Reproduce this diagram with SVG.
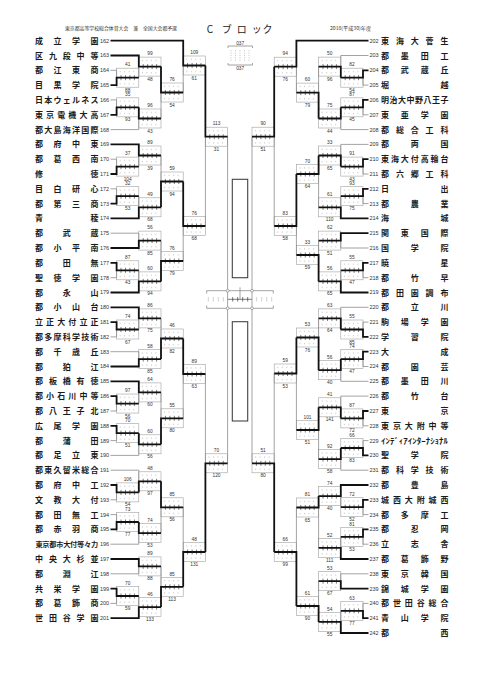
<svg xmlns="http://www.w3.org/2000/svg" width="481" height="680" viewBox="0 0 481 680">
<style>
.n{font-family:"Noto Sans CJK JP","Noto Sans CJK SC",sans-serif;font-size:8px;font-weight:bold;fill:#1a1a1a;text-anchor:middle}
.no{font-family:"Liberation Sans",sans-serif;font-size:5.5px;fill:#333}
.s{font-family:"Liberation Sans",sans-serif;font-size:4.8px;fill:#333;text-anchor:middle}
.h{font-family:"Noto Sans CJK JP",sans-serif;font-size:5px;fill:#333}
.th{fill:none;stroke:#8c8c8c;stroke-width:0.8}
.tk{fill:none;stroke:#111;stroke-width:1.8}
.bo{fill:none;stroke:#a0a0a0;stroke-width:0.6}
.bd{fill:none;stroke:#b0b0b0;stroke-width:0.6}
.bt{fill:none;stroke:#222;stroke-width:0.6}
.t{}
</style>
<defs>
<g id="bx">
<rect class="bo" x="0" y="-9.5" width="22.2" height="19"/>
<path class="bd" d="M3.6,-6.8v1.4M8.1,-6.8v1.4M12.6,-6.8v1.4M17.1,-6.8v1.4M3.6,5.4v1.4M8.1,5.4v1.4M12.6,5.4v1.4M17.1,5.4v1.4"/>
<path class="bt" d="M4.4,-2.5v5M8.9,-2.5v5M13.3,-2.5v5M17.8,-2.5v5"/>
</g>
</defs>
<rect width="481" height="680" fill="#fff"/>
<g id="header">
<text class="h" x="65" y="29.5" textLength="112" lengthAdjust="spacingAndGlyphs">東京都高等学校総合体育大会　兼　全国大会都予選</text>
<text x="210 226.7 241.7 256.7 267.5" y="32.5" style="font-family:'Noto Sans CJK JP',sans-serif;font-size:10px;fill:#222;text-anchor:middle">Cブロック</text>
<text class="h" x="330" y="30" textLength="41" lengthAdjust="spacingAndGlyphs">2018(平成30)年度</text>
</g>
<g id="teams-left">
<g id="t162"><text class="n" x="39 57.5 76 94.5" y="43.7">成立学園</text><text class="no" x="100" y="42.6">162</text></g>
<g id="t163"><text class="n" x="39 52.9 66.8 80.6 94.5" y="58.5">区九段中等</text><text class="no" x="100" y="57.4">163</text></g>
<g id="t164"><text class="n" x="39 57.5 76 94.5" y="73.3">都江東商</text><text class="no" x="100" y="72.2">164</text></g>
<g id="t165"><text class="n" x="39 57.5 76 94.5" y="88.1">目黒学院</text><text class="no" x="100" y="87">165</text></g>
<g id="t166"><text class="n" x="39 48.3 57.5 66.8 76 85.3 94.5" y="102.9">日本ウェルネス</text><text class="no" x="100" y="101.8">166</text></g>
<g id="t167"><text class="n" x="39 50.1 61.2 72.3 83.4 94.5" y="117.8">東京電機大高</text><text class="no" x="100" y="116.7">167</text></g>
<g id="t168"><text class="n" x="39 48.3 57.5 66.8 76 85.3 94.5" y="132.6">都大島海洋国際</text><text class="no" x="100" y="131.5">168</text></g>
<g id="t169"><text class="n" x="39 57.5 76 94.5" y="147.4">都府中東</text><text class="no" x="100" y="146.3">169</text></g>
<g id="t170"><text class="n" x="39 57.5 76 94.5" y="162.2">都葛西南</text><text class="no" x="100" y="161.1">170</text></g>
<g id="t171"><text class="n" x="39 94.5" y="177">修徳</text><text class="no" x="100" y="175.9">171</text></g>
<g id="t172"><text class="n" x="39 57.5 76 94.5" y="191.8">目白研心</text><text class="no" x="100" y="190.7">172</text></g>
<g id="t173"><text class="n" x="39 57.5 76 94.5" y="206.6">都第三商</text><text class="no" x="100" y="205.5">173</text></g>
<g id="t174"><text class="n" x="39 94.5" y="221.4">青稜</text><text class="no" x="100" y="220.3">174</text></g>
<g id="t175"><text class="n" x="39 66.8 94.5" y="236.2">都武蔵</text><text class="no" x="100" y="235.1">175</text></g>
<g id="t176"><text class="n" x="39 57.5 76 94.5" y="251">都小平南</text><text class="no" x="100" y="249.9">176</text></g>
<g id="t177"><text class="n" x="39 66.8 94.5" y="265.9">都田無</text><text class="no" x="100" y="264.8">177</text></g>
<g id="t178"><text class="n" x="39 57.5 76 94.5" y="280.7">聖徳学園</text><text class="no" x="100" y="279.6">178</text></g>
<g id="t179"><text class="n" x="39 66.8 94.5" y="295.5">都永山</text><text class="no" x="100" y="294.4">179</text></g>
<g id="t180"><text class="n" x="39 57.5 76 94.5" y="310.3">都小山台</text><text class="no" x="100" y="309.2">180</text></g>
<g id="t181"><text class="n" x="39 50.1 61.2 72.3 83.4 94.5" y="325.1">立正大付立正</text><text class="no" x="100" y="324">181</text></g>
<g id="t182"><text class="n" x="39 48.3 57.5 66.8 76 85.3 94.5" y="339.9">都多摩科学技術</text><text class="no" x="100" y="338.8">182</text></g>
<g id="t183"><text class="n" x="39 57.5 76 94.5" y="354.7">都千歳丘</text><text class="no" x="100" y="353.6">183</text></g>
<g id="t184"><text class="n" x="39 66.8 94.5" y="369.5">都狛江</text><text class="no" x="100" y="368.4">184</text></g>
<g id="t185"><text class="n" x="39 52.9 66.8 80.6 94.5" y="384.3">都板橋有徳</text><text class="no" x="100" y="383.2">185</text></g>
<g id="t186"><text class="n" x="39 50.1 61.2 72.3 83.4 94.5" y="399.1">都小石川中等</text><text class="no" x="100" y="398">186</text></g>
<g id="t187"><text class="n" x="39 52.9 66.8 80.6 94.5" y="414">都八王子北</text><text class="no" x="100" y="412.9">187</text></g>
<g id="t188"><text class="n" x="39 57.5 76 94.5" y="428.8">広尾学園</text><text class="no" x="100" y="427.7">188</text></g>
<g id="t189"><text class="n" x="39 66.8 94.5" y="443.6">都蒲田</text><text class="no" x="100" y="442.5">189</text></g>
<g id="t190"><text class="n" x="39 57.5 76 94.5" y="458.4">都足立東</text><text class="no" x="100" y="457.3">190</text></g>
<g id="t191"><text class="n" x="39 48.3 57.5 66.8 76 85.3 94.5" y="473.2">都東久留米総合</text><text class="no" x="100" y="472.1">191</text></g>
<g id="t192"><text class="n" x="39 57.5 76 94.5" y="488">都府中工</text><text class="no" x="100" y="486.9">192</text></g>
<g id="t193"><text class="n" x="39 57.5 76 94.5" y="502.8">文教大付</text><text class="no" x="100" y="501.7">193</text></g>
<g id="t194"><text class="n" x="39 57.5 76 94.5" y="517.6">都田無工</text><text class="no" x="100" y="516.5">194</text></g>
<g id="t195"><text class="n" x="39 57.5 76 94.5" y="532.4">都赤羽商</text><text class="no" x="100" y="531.3">195</text></g>
<g id="t196"><text class="n" style="font-size:7.2px" x="39 45.9 52.9 59.8 66.8 73.7 80.6 87.6 94.5" y="547">東京都市大付等々力</text><text class="no" x="100" y="546.1">196</text></g>
<g id="t197"><text class="n" x="39 52.9 66.8 80.6 94.5" y="562">中央大杉並</text><text class="no" x="100" y="560.9">197</text></g>
<g id="t198"><text class="n" x="39 66.8 94.5" y="576.8">都淵江</text><text class="no" x="100" y="575.7">198</text></g>
<g id="t199"><text class="n" x="39 57.5 76 94.5" y="591.6">共栄学園</text><text class="no" x="100" y="590.5">199</text></g>
<g id="t200"><text class="n" x="39 57.5 76 94.5" y="606.4">都葛飾商</text><text class="no" x="100" y="605.3">200</text></g>
<g id="t201"><text class="n" x="39 52.9 66.8 80.6 94.5" y="621.2">世田谷学園</text><text class="no" x="100" y="620.1">201</text></g>
</g>
<g id="teams-right">
<g id="t202"><text class="n" x="385 399.9 414.8 429.6 444.5" y="43.7">東海大菅生</text><text class="no" x="369.5" y="42.6">202</text></g>
<g id="t203"><text class="n" x="385 404.8 424.7 444.5" y="58.5">都墨田工</text><text class="no" x="369.5" y="57.4">203</text></g>
<g id="t204"><text class="n" x="385 404.8 424.7 444.5" y="73.3">都武蔵丘</text><text class="no" x="369.5" y="72.2">204</text></g>
<g id="t205"><text class="n" x="385 444.5" y="88.1">堀越</text><text class="no" x="369.5" y="87">205</text></g>
<g id="t206"><text class="n" x="385 393.5 402 410.5 419 427.5 436 444.5" y="102.9">明治大中野八王子</text><text class="no" x="369.5" y="101.8">206</text></g>
<g id="t207"><text class="n" x="385 404.8 424.7 444.5" y="117.8">東亜学園</text><text class="no" x="369.5" y="116.7">207</text></g>
<g id="t208"><text class="n" x="385 399.9 414.8 429.6 444.5" y="132.6">都総合工科</text><text class="no" x="369.5" y="131.5">208</text></g>
<g id="t209"><text class="n" x="385 414.8 444.5" y="147.4">都両国</text><text class="no" x="369.5" y="146.3">209</text></g>
<g id="t210"><text class="n" x="385 394.9 404.8 414.8 424.7 434.6 444.5" y="162.2">東海大付高輪台</text><text class="no" x="369.5" y="161.1">210</text></g>
<g id="t211"><text class="n" x="385 399.9 414.8 429.6 444.5" y="177">都六郷工科</text><text class="no" x="369.5" y="175.9">211</text></g>
<g id="t212"><text class="n" x="385 444.5" y="191.8">日出</text><text class="no" x="369.5" y="190.7">212</text></g>
<g id="t213"><text class="n" x="385 414.8 444.5" y="206.6">都農業</text><text class="no" x="369.5" y="205.5">213</text></g>
<g id="t214"><text class="n" x="385 444.5" y="221.4">海城</text><text class="no" x="369.5" y="220.3">214</text></g>
<g id="t215"><text class="n" x="385 404.8 424.7 444.5" y="236.2">関東国際</text><text class="no" x="369.5" y="235.1">215</text></g>
<g id="t216"><text class="n" x="385 414.8 444.5" y="251">国学院</text><text class="no" x="369.5" y="249.9">216</text></g>
<g id="t217"><text class="n" x="385 444.5" y="265.9">暁星</text><text class="no" x="369.5" y="264.8">217</text></g>
<g id="t218"><text class="n" x="385 414.8 444.5" y="280.7">都竹早</text><text class="no" x="369.5" y="279.6">218</text></g>
<g id="t219"><text class="n" x="385 399.9 414.8 429.6 444.5" y="295.5">都田園調布</text><text class="no" x="369.5" y="294.4">219</text></g>
<g id="t220"><text class="n" x="385 414.8 444.5" y="310.3">都立川</text><text class="no" x="369.5" y="309.2">220</text></g>
<g id="t221"><text class="n" x="385 404.8 424.7 444.5" y="325.1">駒場学園</text><text class="no" x="369.5" y="324">221</text></g>
<g id="t222"><text class="n" x="385 414.8 444.5" y="339.9">学習院</text><text class="no" x="369.5" y="338.8">222</text></g>
<g id="t223"><text class="n" x="385 444.5" y="354.7">大成</text><text class="no" x="369.5" y="353.6">223</text></g>
<g id="t224"><text class="n" x="385 414.8 444.5" y="369.5">都園芸</text><text class="no" x="369.5" y="368.4">224</text></g>
<g id="t225"><text class="n" x="385 404.8 424.7 444.5" y="384.3">都墨田川</text><text class="no" x="369.5" y="383.2">225</text></g>
<g id="t226"><text class="n" x="385 414.8 444.5" y="399.1">都竹台</text><text class="no" x="369.5" y="398">226</text></g>
<g id="t227"><text class="n" x="385 444.5" y="414">東京</text><text class="no" x="369.5" y="412.9">227</text></g>
<g id="t228"><text class="n" x="385 396.9 408.8 420.7 432.6 444.5" y="428.8">東京大附中等</text><text class="no" x="369.5" y="427.7">228</text></g>
<g id="t229"><text class="n" style="text-anchor:start;font-size:7.5px" x="381" y="443.6" textLength="67" lengthAdjust="spacingAndGlyphs">ｲﾝﾃﾞｨｱｲﾝﾀｰﾅｼｮﾅﾙ</text><text class="no" x="369.5" y="442.5">229</text></g>
<g id="t230"><text class="n" x="385 414.8 444.5" y="458.4">聖学院</text><text class="no" x="369.5" y="457.3">230</text></g>
<g id="t231"><text class="n" x="385 399.9 414.8 429.6 444.5" y="473.2">都科学技術</text><text class="no" x="369.5" y="472.1">231</text></g>
<g id="t232"><text class="n" x="385 414.8 444.5" y="488">都豊島</text><text class="no" x="369.5" y="486.9">232</text></g>
<g id="t233"><text class="n" x="385 396.9 408.8 420.7 432.6 444.5" y="502.8">城西大附城西</text><text class="no" x="369.5" y="501.7">233</text></g>
<g id="t234"><text class="n" x="385 404.8 424.7 444.5" y="517.6">都多摩工</text><text class="no" x="369.5" y="516.5">234</text></g>
<g id="t235"><text class="n" x="385 414.8 444.5" y="532.4">都忍岡</text><text class="no" x="369.5" y="531.3">235</text></g>
<g id="t236"><text class="n" x="385 414.8 444.5" y="547.2">立志舎</text><text class="no" x="369.5" y="546.1">236</text></g>
<g id="t237"><text class="n" x="385 404.8 424.7 444.5" y="562">都葛飾野</text><text class="no" x="369.5" y="560.9">237</text></g>
<g id="t238"><text class="n" x="385 404.8 424.7 444.5" y="576.8">東京韓国</text><text class="no" x="369.5" y="575.7">238</text></g>
<g id="t239"><text class="n" x="385 404.8 424.7 444.5" y="591.6">錦城学園</text><text class="no" x="369.5" y="590.5">239</text></g>
<g id="t240"><text class="n" x="385 396.9 408.8 420.7 432.6 444.5" y="606.4">都世田谷総合</text><text class="no" x="369.5" y="605.3">240</text></g>
<g id="t241"><text class="n" x="385 404.8 424.7 444.5" y="621.2">青山学院</text><text class="no" x="369.5" y="620.1">241</text></g>
<g id="t242"><text class="n" x="385 444.5" y="636">都西</text><text class="no" x="369.5" y="634.9">242</text></g>
</g>
<g id="matches-left">
<g id="mA1" transform="translate(116.6,77.7)"><use href="#bx"/><text class="s" x="11.1" y="-11.3">41</text><text class="s" x="11.1" y="14">88</text></g>
<g id="mA2" transform="translate(116.6,107.35)"><use href="#bx"/><text class="s" x="11.1" y="-11.3">35</text><text class="s" x="11.1" y="14">93</text></g>
<g id="mA3" transform="translate(116.6,166.6)"><use href="#bx"/><text class="s" x="11.1" y="-11.3">37</text><text class="s" x="11.1" y="14">104</text></g>
<g id="mA4" transform="translate(116.6,196.2)"><use href="#bx"/><text class="s" x="11.1" y="-11.3">32</text><text class="s" x="11.1" y="14">53</text></g>
<g id="mA5" transform="translate(116.6,270.3)"><use href="#bx"/><text class="s" x="11.1" y="-11.3">87</text><text class="s" x="11.1" y="14">43</text></g>
<g id="mA6" transform="translate(116.6,329.5)"><use href="#bx"/><text class="s" x="11.1" y="-11.3">74</text><text class="s" x="11.1" y="14">67</text></g>
<g id="mA7" transform="translate(116.6,403.55)"><use href="#bx"/><text class="s" x="11.1" y="-11.3">97</text><text class="s" x="11.1" y="14">56</text></g>
<g id="mA8" transform="translate(116.6,433.2)"><use href="#bx"/><text class="s" x="11.1" y="-11.3">70</text><text class="s" x="11.1" y="14">51</text></g>
<g id="mA9" transform="translate(116.6,492.4)"><use href="#bx"/><text class="s" x="11.1" y="-11.3">106</text><text class="s" x="11.1" y="14">54</text></g>
<g id="mA10" transform="translate(116.6,522)"><use href="#bx"/><text class="s" x="11.1" y="-11.3">73</text><text class="s" x="11.1" y="14">77</text></g>
<g id="mA11" transform="translate(116.6,596)"><use href="#bx"/><text class="s" x="11.1" y="-11.3">70</text><text class="s" x="11.1" y="14">59</text></g>
<g id="mB1" transform="translate(138.8,66.6)"><use href="#bx"/><text class="s" x="11.1" y="-11.3">99</text><text class="s" x="11.1" y="14">48</text></g>
<g id="mB2" transform="translate(138.8,118.5)"><use href="#bx"/><text class="s" x="11.1" y="-11.3">96</text><text class="s" x="11.1" y="14">43</text></g>
<g id="mB3" transform="translate(138.8,155.5)"><use href="#bx"/><text class="s" x="11.1" y="-11.3">89</text><text class="s" x="11.1" y="14">39</text></g>
<g id="mB4" transform="translate(138.8,207.3)"><use href="#bx"/><text class="s" x="11.1" y="-11.3">49</text><text class="s" x="11.1" y="14">68</text></g>
<g id="mB5" transform="translate(138.8,240.6)"><use href="#bx"/><text class="s" x="11.1" y="-11.3">56</text><text class="s" x="11.1" y="14">85</text></g>
<g id="mB6" transform="translate(138.8,281.4)"><use href="#bx"/><text class="s" x="11.1" y="-11.3">60</text><text class="s" x="11.1" y="14">94</text></g>
<g id="mB7" transform="translate(138.8,318.4)"><use href="#bx"/><text class="s" x="11.1" y="-11.3">86</text><text class="s" x="11.1" y="14">75</text></g>
<g id="mB8" transform="translate(138.8,359.1)"><use href="#bx"/><text class="s" x="11.1" y="-11.3">58</text><text class="s" x="11.1" y="14">85</text></g>
<g id="mB9" transform="translate(138.8,392.4)"><use href="#bx"/><text class="s" x="11.1" y="-11.3">64</text><text class="s" x="11.1" y="14">60</text></g>
<g id="mB10" transform="translate(138.8,444.3)"><use href="#bx"/><text class="s" x="11.1" y="-11.3">60</text><text class="s" x="11.1" y="14">56</text></g>
<g id="mB11" transform="translate(138.8,481.3)"><use href="#bx"/><text class="s" x="11.1" y="-11.3">48</text><text class="s" x="11.1" y="14">97</text></g>
<g id="mB12" transform="translate(138.8,533.1)"><use href="#bx"/><text class="s" x="11.1" y="-11.3">74</text><text class="s" x="11.1" y="14">53</text></g>
<g id="mB13" transform="translate(138.8,566.4)"><use href="#bx"/><text class="s" x="11.1" y="-11.3">89</text><text class="s" x="11.1" y="14">88</text></g>
<g id="mB14" transform="translate(138.8,607.1)"><use href="#bx"/><text class="s" x="11.1" y="-11.3">46</text><text class="s" x="11.1" y="14">133</text></g>
<g id="mC1" transform="translate(161,92.5)"><use href="#bx"/><text class="s" x="11.1" y="-11.3">76</text><text class="s" x="11.1" y="14">54</text></g>
<g id="mC2" transform="translate(161,181.5)"><use href="#bx"/><text class="s" x="11.1" y="-11.3">59</text><text class="s" x="11.1" y="14">94</text></g>
<g id="mC3" transform="translate(161,261)"><use href="#bx"/><text class="s" x="11.1" y="-11.3">76</text><text class="s" x="11.1" y="14">79</text></g>
<g id="mC4" transform="translate(161,338.5)"><use href="#bx"/><text class="s" x="11.1" y="-11.3">46</text><text class="s" x="11.1" y="14">82</text></g>
<g id="mC5" transform="translate(161,418.3)"><use href="#bx"/><text class="s" x="11.1" y="-11.3">55</text><text class="s" x="11.1" y="14">80</text></g>
<g id="mC6" transform="translate(161,507.3)"><use href="#bx"/><text class="s" x="11.1" y="-11.3">85</text><text class="s" x="11.1" y="14">56</text></g>
<g id="mC7" transform="translate(161,586.8)"><use href="#bx"/><text class="s" x="11.1" y="-11.3">85</text><text class="s" x="11.1" y="14">113</text></g>
<g id="mD1" transform="translate(183.2,65.5)"><use href="#bx"/><text class="s" x="11.1" y="-11.3">109</text><text class="s" x="11.1" y="14">61</text></g>
<g id="mD2" transform="translate(183.2,226)"><use href="#bx"/><text class="s" x="11.1" y="-11.3">76</text><text class="s" x="11.1" y="14">68</text></g>
<g id="mD3" transform="translate(183.2,374)"><use href="#bx"/><text class="s" x="11.1" y="-11.3">89</text><text class="s" x="11.1" y="14">63</text></g>
<g id="mD4" transform="translate(183.2,552)"><use href="#bx"/><text class="s" x="11.1" y="-11.3">48</text><text class="s" x="11.1" y="14">131</text></g>
<g id="mE1" transform="translate(205.4,136.7)"><use href="#bx"/><text class="s" x="11.1" y="-11.3">113</text><text class="s" x="11.1" y="14">31</text></g>
<g id="mE2" transform="translate(205.4,463.3)"><use href="#bx"/><text class="s" x="11.1" y="-11.3">70</text><text class="s" x="11.1" y="14">120</text></g>
</g>
<g id="matches-right">
<g id="ma1" transform="translate(340.8,77.7)"><use href="#bx"/><text class="s" x="11.1" y="-11.3">82</text><text class="s" x="11.1" y="14">54</text></g>
<g id="ma2" transform="translate(340.8,107.35)"><use href="#bx"/><text class="s" x="11.1" y="-11.3">87</text><text class="s" x="11.1" y="14">45</text></g>
<g id="ma3" transform="translate(340.8,166.6)"><use href="#bx"/><text class="s" x="11.1" y="-11.3">91</text><text class="s" x="11.1" y="14">43</text></g>
<g id="ma4" transform="translate(340.8,196.2)"><use href="#bx"/><text class="s" x="11.1" y="-11.3">93</text><text class="s" x="11.1" y="14">75</text></g>
<g id="ma5" transform="translate(340.8,270.3)"><use href="#bx"/><text class="s" x="11.1" y="-11.3">55</text><text class="s" x="11.1" y="14">47</text></g>
<g id="ma6" transform="translate(340.8,329.5)"><use href="#bx"/><text class="s" x="11.1" y="-11.3">55</text><text class="s" x="11.1" y="14">85</text></g>
<g id="ma7" transform="translate(340.8,359.1)"><use href="#bx"/><text class="s" x="11.1" y="-11.3">74</text><text class="s" x="11.1" y="14">47</text></g>
<g id="ma8" transform="translate(340.8,418.4)"><use href="#bx"/><text class="s" x="11.1" y="-11.3">87</text><text class="s" x="11.1" y="14">72</text></g>
<g id="ma9" transform="translate(340.8,448)"><use href="#bx"/><text class="s" x="11.1" y="-11.3">66</text><text class="s" x="11.1" y="14">83</text></g>
<g id="ma10" transform="translate(340.8,507.2)"><use href="#bx"/><text class="s" x="11.1" y="-11.3">72</text><text class="s" x="11.1" y="14">52</text></g>
<g id="ma11" transform="translate(340.8,536.8)"><use href="#bx"/><text class="s" x="11.1" y="-11.3">81</text><text class="s" x="11.1" y="14">53</text></g>
<g id="ma12" transform="translate(340.8,610.8)"><use href="#bx"/><text class="s" x="11.1" y="-11.3">63</text><text class="s" x="11.1" y="14">77</text></g>
<g id="mb1" transform="translate(318.6,66.6)"><use href="#bx"/><text class="s" x="11.1" y="-11.3">50</text><text class="s" x="11.1" y="14">96</text></g>
<g id="mb2" transform="translate(318.6,118.5)"><use href="#bx"/><text class="s" x="11.1" y="-11.3">75</text><text class="s" x="11.1" y="14">44</text></g>
<g id="mb3" transform="translate(318.6,155.5)"><use href="#bx"/><text class="s" x="11.1" y="-11.3">33</text><text class="s" x="11.1" y="14">65</text></g>
<g id="mb4" transform="translate(318.6,207.3)"><use href="#bx"/><text class="s" x="11.1" y="-11.3">61</text><text class="s" x="11.1" y="14">110</text></g>
<g id="mb5" transform="translate(318.6,240.6)"><use href="#bx"/><text class="s" x="11.1" y="-11.3">62</text><text class="s" x="11.1" y="14">51</text></g>
<g id="mb6" transform="translate(318.6,281.4)"><use href="#bx"/><text class="s" x="11.1" y="-11.3">56</text><text class="s" x="11.1" y="14">65</text></g>
<g id="mb7" transform="translate(318.6,318.4)"><use href="#bx"/><text class="s" x="11.1" y="-11.3">63</text><text class="s" x="11.1" y="14">64</text></g>
<g id="mb8" transform="translate(318.6,370.2)"><use href="#bx"/><text class="s" x="11.1" y="-11.3">56</text><text class="s" x="11.1" y="14">40</text></g>
<g id="mb9" transform="translate(318.6,407.3)"><use href="#bx"/><text class="s" x="11.1" y="-11.3">41</text><text class="s" x="11.1" y="14">141</text></g>
<g id="mb10" transform="translate(318.6,459.1)"><use href="#bx"/><text class="s" x="11.1" y="-11.3">92</text><text class="s" x="11.1" y="14">58</text></g>
<g id="mb11" transform="translate(318.6,496.1)"><use href="#bx"/><text class="s" x="11.1" y="-11.3">74</text><text class="s" x="11.1" y="14">40</text></g>
<g id="mb12" transform="translate(318.6,547.9)"><use href="#bx"/><text class="s" x="11.1" y="-11.3">52</text><text class="s" x="11.1" y="14">111</text></g>
<g id="mb13" transform="translate(318.6,581.2)"><use href="#bx"/><text class="s" x="11.1" y="-11.3">53</text><text class="s" x="11.1" y="14">67</text></g>
<g id="mb14" transform="translate(318.6,621.9)"><use href="#bx"/><text class="s" x="11.1" y="-11.3">54</text><text class="s" x="11.1" y="14">55</text></g>
<g id="mc1" transform="translate(296.4,92.6)"><use href="#bx"/><text class="s" x="11.1" y="-11.3">60</text><text class="s" x="11.1" y="14">79</text></g>
<g id="mc2" transform="translate(296.4,174)"><use href="#bx"/><text class="s" x="11.1" y="-11.3">70</text><text class="s" x="11.1" y="14">64</text></g>
<g id="mc3" transform="translate(296.4,255)"><use href="#bx"/><text class="s" x="11.1" y="-11.3">33</text><text class="s" x="11.1" y="14">59</text></g>
<g id="mc4" transform="translate(296.4,337.5)"><use href="#bx"/><text class="s" x="11.1" y="-11.3">53</text><text class="s" x="11.1" y="14">76</text></g>
<g id="mc5" transform="translate(296.4,430)"><use href="#bx"/><text class="s" x="11.1" y="-11.3">101</text><text class="s" x="11.1" y="14">51</text></g>
<g id="mc6" transform="translate(296.4,507.5)"><use href="#bx"/><text class="s" x="11.1" y="-11.3">81</text><text class="s" x="11.1" y="14">65</text></g>
<g id="mc7" transform="translate(296.4,606)"><use href="#bx"/><text class="s" x="11.1" y="-11.3">61</text><text class="s" x="11.1" y="14">90</text></g>
<g id="md1" transform="translate(274.2,66.7)"><use href="#bx"/><text class="s" x="11.1" y="-11.3">94</text><text class="s" x="11.1" y="14">76</text></g>
<g id="md2" transform="translate(274.2,226)"><use href="#bx"/><text class="s" x="11.1" y="-11.3">83</text><text class="s" x="11.1" y="14">58</text></g>
<g id="md3" transform="translate(274.2,373.5)"><use href="#bx"/><text class="s" x="11.1" y="-11.3">59</text><text class="s" x="11.1" y="14">53</text></g>
<g id="md4" transform="translate(274.2,552)"><use href="#bx"/><text class="s" x="11.1" y="-11.3">66</text><text class="s" x="11.1" y="14">99</text></g>
<g id="me1" transform="translate(252,136.7)"><use href="#bx"/><text class="s" x="11.1" y="-11.3">90</text><text class="s" x="11.1" y="14">51</text></g>
<g id="me2" transform="translate(252,463.3)"><use href="#bx"/><text class="s" x="11.1" y="-11.3">51</text><text class="s" x="11.1" y="14">80</text></g>
</g>
<g id="final">
<rect x="232.3" y="179.3" width="15.4" height="98.4" fill="none" stroke="#444" stroke-width="1.1"/>
<rect x="232.3" y="321.7" width="15.4" height="99.3" fill="none" stroke="#444" stroke-width="1.1"/>
<path class="th" d="M206.7,293.5V290.7H273.3V293.5M206.7,305.5V308.3H273.3V305.5M240,287.3V299.3"/>
<path class="bd" d="M208.3,297v4.5M213.3,297v4.5M218.3,297v4.5M223.3,297v4.5M256.7,297v4.5M261.7,297v4.5M266.7,297v4.5M271.7,297v4.5"/>
<path class="bt" d="M227.6,299.3H252M232.7,297v4.6M237.7,297v4.6M242.7,297v4.6M247.7,297v4.6"/>
</g>
<g id="topbox">
<path class="th" d="M228,48V46H252.5V48M228,63V65H252.5V63"/>
<path class="bd" stroke-dasharray="1.2,1.2" d="M231,50V62M235.5,50V62M240,50V62M244.5,50V62M249,50V62"/>
<text class="s" x="240.2" y="44.5">037</text>
<text class="s" x="240.2" y="70">037</text>
</g>
<g id="connectors">
<path class="th" d="M110.5,70.3H116.6V77.7M110.5,99.9H116.6V107.35M110.5,159.2H116.6V166.6M110.5,188.8H116.6V196.2M110.5,277.7H116.6V270.3M110.5,336.9H116.6V329.5M110.5,411H116.6V403.55M110.5,440.6H116.6V433.2M110.5,499.8H116.6V492.4M110.5,514.6H116.6V522M110.5,603.4H116.6V596
M138.8,77.7V66.6M110.5,129.6H138.8V118.5M138.8,166.6V155.5M138.8,196.2V207.3M110.5,233.2H138.8V240.6M138.8,270.3V281.4M138.8,329.5V318.4M110.5,351.7H138.8V359.1M138.8,403.55V392.4M110.5,455.4H138.8V444.3M110.5,470.2H138.8V481.3M110.5,544.2H138.8V533.1M110.5,573.8H138.8V566.4M138.8,596V607.1
M161,118.5V92.5M161,155.5V181.5M161,240.6V261M161,318.4V338.5M161,392.4V418.3M161,533.1V507.3M161,566.4V586.8
M183.2,92.5V65.5M183.2,261V226M183.2,418.3V374M183.2,507.3V552
M205.4,226V136.7M205.4,374V463.3M227.6,136.7V463.3"/>
<path class="tk" d="M110.5,85.1H116.6V77.7H138.8M110.5,114.8H116.6V107.35H138.8M110.5,174H116.6V166.6H138.8M110.5,203.6H116.6V196.2H138.8M110.5,262.9H116.6V270.3H138.8M110.5,322.1H116.6V329.5H138.8M110.5,396.1H116.6V403.55H138.8M110.5,425.8H116.6V433.2H138.8M110.5,485H116.6V492.4H138.8M110.5,529.4H116.6V522H138.8M110.5,588.6H116.6V596H138.8
M110.5,55.5H138.8V66.6H161M138.8,107.35V118.5H161M110.5,144.4H138.8V155.5H161M110.5,218.4H138.8V207.3H161M110.5,248H138.8V240.6H161M110.5,292.5H138.8V281.4H161M110.5,307.3H138.8V318.4H161M110.5,366.5H138.8V359.1H161M110.5,381.3H138.8V392.4H161M138.8,433.2V444.3H161M138.8,492.4V481.3H161M138.8,522V533.1H161M110.5,559H138.8V566.4H161M110.5,618.2H138.8V607.1H161
M161,66.6V92.5H183.2M161,207.3V181.5H183.2M161,281.4V261H183.2M161,359.1V338.5H183.2M161,444.3V418.3H183.2M161,481.3V507.3H183.2M161,607.1V586.8H183.2
M110.5,40.7H183.2V65.5H205.4M183.2,181.5V226H205.4M183.2,338.5V374H205.4M183.2,586.8V552H205.4
M205.4,65.5V136.7H227.6M205.4,552V463.3H227.6"/>
<path class="th" d="M368.5,85.1H363V77.7M368.5,114.8H363V107.35M368.5,174H363V166.6M368.5,203.6H363V196.2M368.5,277.7H363V270.3M368.5,322.1H363V329.5M368.5,366.5H363V359.1M368.5,425.8H363V418.4M368.5,440.6H363V448M368.5,514.6H363V507.2M368.5,544.2H363V536.8M368.5,603.4H363V610.8
M368.5,55.5H340.8V66.6M368.5,129.6H340.8V118.5M368.5,144.4H340.8V155.5M340.8,196.2V207.3M368.5,248H340.8V240.6M340.8,270.3V281.4M368.5,307.3H340.8V318.4M368.5,381.3H340.8V370.2M368.5,396.1H340.8V407.3M368.5,470.2H340.8V459.1M340.8,507.2V496.1M340.8,536.8V547.9M368.5,573.8H340.8V581.2M340.8,610.8V621.9
M318.6,66.6V92.6M318.6,207.3V174M318.6,240.6V255M318.6,318.4V337.5M318.6,459.1V430M318.6,547.9V507.5M318.6,581.2V606
M296.4,92.6V66.7M296.4,255V226M296.4,430V373.5M296.4,507.5V552
M274.2,226V136.7M274.2,373.5V463.3M252,136.7V463.3"/>
<path class="tk" d="M368.5,70.3H363V77.7H340.8M368.5,99.9H363V107.35H340.8M368.5,159.2H363V166.6H340.8M368.5,188.8H363V196.2H340.8M368.5,262.9H363V270.3H340.8M368.5,336.9H363V329.5H340.8M368.5,351.7H363V359.1H340.8M368.5,411H363V418.4H340.8M368.5,455.4H363V448H340.8M368.5,499.8H363V507.2H340.8M368.5,529.4H363V536.8H340.8M368.5,618.2H363V610.8H340.8
M340.8,77.7V66.6H318.6M340.8,107.35V118.5H318.6M340.8,166.6V155.5H318.6M368.5,218.4H340.8V207.3H318.6M368.5,233.2H340.8V240.6H318.6M368.5,292.5H340.8V281.4H318.6M340.8,329.5V318.4H318.6M340.8,359.1V370.2H318.6M340.8,418.4V407.3H318.6M340.8,448V459.1H318.6M368.5,485H340.8V496.1H318.6M368.5,559H340.8V547.9H318.6M368.5,588.6H340.8V581.2H318.6M368.5,633H340.8V621.9H318.6
M318.6,118.5V92.6H296.4M318.6,155.5V174H296.4M318.6,281.4V255H296.4M318.6,370.2V337.5H296.4M318.6,407.3V430H296.4M318.6,496.1V507.5H296.4M318.6,621.9V606H296.4
M368.5,40.7H296.4V66.7H274.2M296.4,174V226H274.2M296.4,337.5V373.5H274.2M296.4,606V552H274.2
M274.2,66.7V136.7H252M274.2,552V463.3H252"/>
<g fill="#fff" stroke="#777" stroke-width="0.6"><circle cx="227.6" cy="290.7" r="1.4"/><circle cx="252" cy="290.7" r="1.4"/><circle cx="227.6" cy="308.3" r="1.4"/><circle cx="252" cy="308.3" r="1.4"/></g>
</g>
</svg>
